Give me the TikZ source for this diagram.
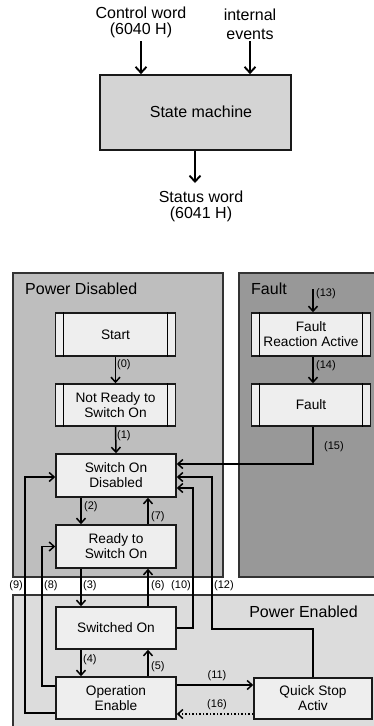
\documentclass[tikz,border=0pt]{standalone}
\usepackage{fontspec}
\setmainfont{Liberation Sans}
\usetikzlibrary{arrows.meta,calc}
\definecolor{pdis}{RGB}{190,190,190}
\definecolor{pflt}{RGB}{152,152,152}
\definecolor{pen}{RGB}{220,220,220}
\definecolor{boxfill}{RGB}{238,238,238}
\definecolor{smfill}{RGB}{212,212,212}
\begin{document}
\begin{tikzpicture}[x=1pt,y=-1pt,
  sect/.style={draw=black!80, line width=1.6pt},
  state/.style={draw=black!90, fill=boxfill, line width=1.5pt, minimum width=120pt, minimum height=43pt, inner sep=0pt, align=center, font=\fontsize{13.7}{15}\selectfont},
  tr/.style={font=\fontsize{11}{12}\selectfont, inner sep=0pt},
  arr/.style={line width=1.5pt, -{Straight Barb[length=5pt,width=9pt]}},
  bigarr/.style={line width=1.9pt, -{Straight Barb[length=6pt,width=11pt]}},
  toptext/.style={font=\fontsize{16}{15.5}\selectfont, align=center, inner sep=0pt},
  title/.style={font=\fontsize{16}{18}\selectfont, inner sep=0pt}
]
\clip (0,0) rectangle (374,726);
\fill[white] (0,0) rectangle (374,726);

% ---------- top part ----------
\node[toptext] (cw) at (141,22.5) {Control word\\(6040 H)};
\node[toptext, font=\fontsize{16}{19}\selectfont] (ie) at (250,24) {internal\\events};
\node[draw=black!90, fill=smfill, line width=1.6pt, minimum width=191pt, minimum height=75pt, inner sep=0pt] (sm) at (195.5,112.5) {};
\node[font=\fontsize{16}{18}\selectfont, inner sep=0pt] (smt) at (201,112) {State machine};
\node[toptext] (sw) at (201,206.5) {Status word\\(6041 H)};
\coordinate (cwa) at (141,41);
\coordinate (iea) at (250,41);
\draw[bigarr] (cwa) -- (cwa |- sm.north);
\draw[bigarr] (iea) -- (iea |- sm.north);
\coordinate (swa) at (195,183);
\draw[bigarr] (sm.south -| swa) -- (swa);

% ---------- sections ----------
\draw[sect, fill=pdis] (13,273) rectangle (223,577);
\draw[sect, fill=pflt] (239,273) rectangle (390,577);
\draw[sect, fill=pen] (13,595) rectangle (390,740);
\node[title, anchor=west] (tpd) at (25,289) {Power Disabled};
\node[title, anchor=west] (tf) at (251,289) {Fault};
\node[title, anchor=east] (tpe) at (358,612) {Power Enabled};

% ---------- states ----------
\node[state, minimum height=43pt] (start) at (115.5,334.5) {Start};
\node[state, minimum height=42pt] (nr) at (115.5,405) {Not Ready to\\Switch On};
\node[state, minimum height=43pt] (sod) at (116,475.5) {Switch On\\Disabled};
\node[state, minimum height=43pt] (rts) at (116,546.5) {Ready to\\Switch On};
\node[state, minimum height=42pt] (so) at (116,628) {Switched On};
\node[state, minimum height=42pt] (oe) at (116,698) {Operation\\Enable};
\node[state, minimum width=119pt, minimum height=43pt] (fr) at (311,334.5) {Fault\\Reaction Active};
\node[state, minimum width=119pt, minimum height=42pt] (flt) at (311,405) {Fault};
\node[state, minimum width=118pt, minimum height=41pt] (qs) at (313,698.5) {Quick Stop\\Activ};
\foreach \n in {start,nr,fr,flt}
  \draw[line width=1.3pt] ([xshift=9pt]\n.north west) -- ([xshift=9pt]\n.south west)
                          ([xshift=-9pt]\n.north east) -- ([xshift=-9pt]\n.south east);

% ---------- transitions ----------
\draw[arr] (start) -- (nr);
\draw[arr] (nr.south) -- (sod.north);
\draw[arr] ([xshift=-35pt]sod.south) -- ([xshift=-35pt]rts.north);
\draw[arr] ([xshift=32pt]rts.north) -- ([xshift=32pt]sod.south);
\draw[arr] ([xshift=-35pt]rts.south) -- ([xshift=-35pt]so.north);
\draw[arr] ([xshift=32pt]so.north) -- ([xshift=32pt]rts.south);
\draw[arr] ([xshift=-35pt]so.south) -- ([xshift=-35pt]oe.north);
\draw[arr] ([xshift=32pt]oe.north) -- ([xshift=32pt]so.south);
% (9)
\coordinate (o9) at ([yshift=-15pt]oe.west);
\coordinate (k9) at (25,0);
\draw[arr] (o9) -- (o9 -| k9) |- ([yshift=-1.5pt]sod.west);
% (8)
\coordinate (o8) at ([yshift=12pt]oe.west);
\coordinate (k8) at (42,0);
\draw[arr] (o8) -- (o8 -| k8) |- (rts.west);
% (10)
\coordinate (k10) at (193,0);
\draw[arr] (so.east) -- (so.east -| k10) |- ([yshift=-12.5pt]sod.east);
% (12)
\coordinate (k12) at (212,629);
\draw[arr] (qs.north) |- (k12) |- ([yshift=-1.5pt]sod.east);
% (15)
\draw[arr] ([xshift=2pt]flt.south) |- ([yshift=11.5pt]sod.east);
% (13)
\coordinate (s13) at (313,289);
\draw[arr] (s13) -- (s13 |- fr.north);
% (14)
\draw[arr] ([xshift=2pt]fr.south) -- ([xshift=2pt]flt.north);
% (11)
\coordinate (o11) at ([yshift=13pt]oe.east);
\draw[arr] (o11) -- (o11 -| qs.west);
% (16)
\coordinate (q16) at ([yshift=-15.5pt]qs.west);
\draw[arr, dotted] (q16) -- (q16 -| oe.east);

% ---------- transition labels ----------
\node[tr, anchor=west] (l0) at (117,365) {(0)};
\node[tr, anchor=west] (l1) at (117,436) {(1)};
\node[tr, anchor=west] (l2) at (84,507) {(2)};
\node[tr, anchor=west] (l7) at (151,517) {(7)};
\node[tr, anchor=west] (l3) at (83,586) {(3)};
\node[tr, anchor=west] (l6) at (151,586) {(6)};
\node[tr, anchor=east] (l10) at (191,586) {(10)};
\node[tr, anchor=east] (l9) at (23,586) {(9)};
\node[tr, anchor=west] (l8) at (44,586) {(8)};
\node[tr, anchor=west] (l12) at (214,586) {(12)};
\node[tr, anchor=west] (l4) at (83,660) {(4)};
\node[tr, anchor=west] (l5) at (151,667) {(5)};
\node[tr] (l11) at (217,676) {(11)};
\node[tr] (l16) at (217,705) {(16)};
\node[tr, anchor=west] (l13) at (316,294) {(13)};
\node[tr, anchor=west] (l14) at (316,366) {(14)};
\node[tr, anchor=west] (l15) at (324,447) {(15)};
\end{tikzpicture}
\end{document}
